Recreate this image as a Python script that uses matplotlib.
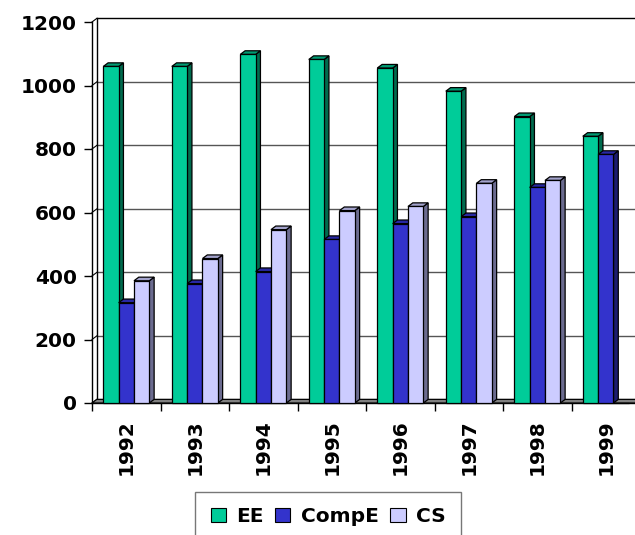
import matplotlib
matplotlib.use("Agg")
import matplotlib.pyplot as plt
from matplotlib.patches import Polygon, Patch
import numpy as np

years = ["1992", "1993", "1994", "1995", "1996", "1997", "1998", "1999"]
ee = [1060, 1060, 1098, 1082, 1055, 982, 902, 840]
compe = [316, 376, 414, 515, 565, 587, 679, 783]
cs = [385, 455, 546, 606, 619, 692, 701, 0]
series_names = ["EE", "CompE", "CS"]
yticks = [0, 200, 400, 600, 800, 1000, 1200]

front_cols = ["#00CC99", "#3333CC", "#CCCCFF"]
side_cols = ["#006B4E", "#1C1C70", "#6B6B8F"]
top_cols = ["#009B73", "#2828A3", "#A3A3CC"]

W, H = 635, 535
fig = plt.figure(figsize=(W / 100, H / 100), dpi=100)
plt.rcParams['font.family'] = ['DejaVu Sans']

x0, x1 = 92, 640
y0, y1 = 403, 22
ax = fig.add_axes([x0 / W, (H - y0) / H, (x1 - x0) / W, (y0 - y1) / H])
n = len(years)
ax.set_xlim(0, n)
ax.set_ylim(0, 1200)
for s in ax.spines.values():
    s.set_visible(False)
ax.patch.set_alpha(0)

# pixel -> data conversion for depth
px_x = n / (x1 - x0)
px_y = 1200 / (y0 - y1)
dx = 4.8 * px_x
dy = 3.6 * px_y
xr = n + 0.2

# back wall gridlines
for v in yticks:
    col = "#000000" if v == 1200 else "#555555"
    ax.plot([dx, xr], [v + dy, v + dy], color=col, lw=1.0, zorder=1, clip_on=False)
    ax.plot([0, dx], [v, v + dy], color="#000000", lw=0.8, zorder=2, clip_on=False)
# left wall
ax.plot([0, 0], [0, 1200], color="black", lw=1.0, zorder=2, clip_on=False)
ax.plot([dx, dx], [dy, 1200 + dy], color="black", lw=1.0, zorder=2, clip_on=False)

# floor
ax.add_patch(Polygon([[0, 0], [xr, 0], [xr + dx, dy], [dx, dy]], closed=True,
                     facecolor="#808080", edgecolor="black", lw=0.8, zorder=3, clip_on=False))

bw = 0.224
off = 0.165
xs = np.arange(n)
z = 4
for j, vals in enumerate([ee, compe, cs]):
    left = xs + off + j * bw
    ax.bar(left, vals, width=bw, align="edge", color=front_cols[j],
           edgecolor="black", lw=0.9, zorder=z + 0.5, clip_on=False)
    for i, (l, v) in enumerate(zip(left, vals)):
        if v <= 0:
            continue
        zz = z + 0.4
        r = l + bw
        ax.add_patch(Polygon([[r, 0], [r + dx, dy], [r + dx, v + dy], [r, v]], closed=True,
                             facecolor=side_cols[j], edgecolor="black", lw=0.9, zorder=zz))
        ax.add_patch(Polygon([[l, v], [r, v], [r + dx, v + dy], [l + dx, v + dy]], closed=True,
                             facecolor=top_cols[j], edgecolor="black", lw=0.9, zorder=zz))
    z += 0.1

# ticks
ax.set_yticks(yticks)
ax.set_yticklabels([str(v) for v in yticks], fontsize=14.5, fontweight="bold")
ax.tick_params(axis="y", length=6, width=1, pad=5, color="black")
ax.set_xticks(np.arange(n + 1), minor=False)
ax.set_xticklabels([])
ax.tick_params(axis="x", length=6, width=1, color="black", which="major")
ax.set_xticks(xs + 0.5, minor=True)
ax.set_xticklabels(years, minor=True, rotation=90, fontsize=14.5, fontweight="bold")
ax.tick_params(axis="x", which="minor", length=0, pad=12)
ax.plot([0, xr], [0, 0], color="black", lw=1, zorder=3.5, clip_on=False)

handles = [Patch(facecolor=c, edgecolor="black", lw=0.8) for c in front_cols]
leg = fig.legend(handles, series_names, loc="upper center",
                 bbox_to_anchor=(328 / W, (H - 492) / H), ncol=3,
                 prop={"weight": "bold", "size": 14.5}, frameon=True, fancybox=False,
                 edgecolor="#555555", handlelength=0.75, handleheight=0.75,
                 handletextpad=0.5, columnspacing=0.6, borderpad=0.75, borderaxespad=0)
leg.get_frame().set_linewidth(1.0)

fig.savefig("out.png", dpi=100)
